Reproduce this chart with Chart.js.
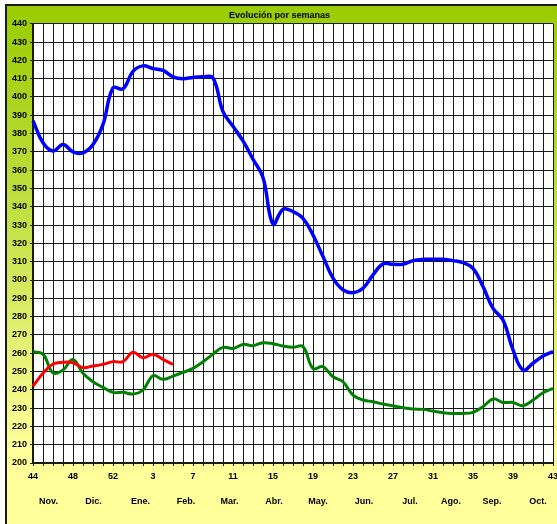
<!DOCTYPE html>
<html>
<head>
<meta charset="utf-8">
<script src="https://cdn.jsdelivr.net/npm/chart.js@4"></script>
<style>
  html, body { margin: 0; padding: 0; background: #fff; }
  #wrap { width: 557px; height: 524px; position: relative; }
</style>
</head>
<body>
<div id="wrap"><canvas id="myChart"></canvas></div>
<script>
// weeks 44..53 of the previous year, then 1..43
const weeks = [44, 45, 46, 47, 48, 49, 50, 51, 52, 53,
  1, 2, 3, 4, 5, 6, 7, 8, 9, 10, 11, 12, 13, 14, 15, 16, 17, 18, 19, 20,
  21, 22, 23, 24, 25, 26, 27, 28, 29, 30, 31, 32, 33, 34, 35, 36, 37, 38, 39, 40,
  41, 42, 43];

const blueValues = [387, 375, 370.5, 374, 370, 369.5, 374, 385, 405, 404.5,
  414, 417, 415.5, 414.5, 411, 410, 410.7, 411, 410.5, 392,
  384, 376, 366, 356, 330.5, 338.7, 337.4, 333.7, 324.6, 312.8,
  301, 294.6, 293.1, 295.5, 302.8, 308.8, 308.6, 308.6, 310.6, 311.3,
  311.3, 311.3, 310.6, 309.5, 306.4, 296.4, 284.5, 278.1, 261.8, 250.8,
  254.5, 258.5, 260.9];

const greenValues = [260.8, 259.5, 249.3, 250.8, 256.6, 249, 244.4, 241.3, 238.6, 238.6,
  237.7, 239.9, 247.7, 245.7, 247.5, 249.5, 251.7, 255.3, 259.5, 263.2,
  262.6, 264.8, 264.1, 265.7, 265.2, 263.9, 263.2, 263.6, 251.7, 252.6,
  247.1, 244.4, 237.1, 234.4, 233.5, 232.2, 231.3, 230.2, 229.5, 229.3,
  228.4, 227.5, 227.1, 227.1, 227.7, 230.8, 235, 233.1, 233.1, 231.3,
  234.4, 238.4, 240.8];

const redValues = [242, 249, 254.1, 255, 254.8, 252.1, 253, 253.9, 255.4, 255.4,
  260.5, 257.5, 259.4, 256.6, 253.9];

const months = ["Nov.", "Dic.", "Ene.", "Feb.", "Mar.", "Abr.", "May.", "Jun.", "Jul.", "Ago.", "Sep.", "Oct."];
const monthAt = [1.55, 6.05, 10.75, 15.3, 19.65, 24.1, 28.5, 33.1, 37.7, 41.8, 45.9, 50.5];

const FONT = "Arial, 'Liberation Sans', sans-serif";

const backdrop = {
  id: "backdrop",
  beforeDraw(chart) {
    const c = chart.ctx;
    const w = chart.width, h = chart.height;
    c.save();
    c.fillStyle = "#fff";
    c.fillRect(0, 0, w, h);
    const g = c.createLinearGradient(0, 5, 0, h);
    g.addColorStop(0, "#99cc00");
    g.addColorStop(0.45, "#c8e24c");
    g.addColorStop(0.85, "#ffff99");
    g.addColorStop(1, "#ffff99");
    c.fillStyle = g;
    c.fillRect(6, 5, w - 6, h - 5);
    c.fillStyle = "#1a1a1a";
    c.fillRect(5, 4, w - 5, 2);
    c.fillRect(5, 4, 2, h - 4);
    const a = chart.chartArea;
    c.fillStyle = "#fff";
    c.fillRect(a.left, a.top, a.right - a.left, a.bottom - a.top);
    c.restore();
  },
  afterDraw(chart) {
    const c = chart.ctx;
    const x = chart.scales.x;
    c.save();
    c.font = "bold 9px " + FONT;
    c.fillStyle = "#000";
    c.textAlign = "center";
    c.textBaseline = "middle";
    months.forEach((m, i) => {
      c.fillText(m, x.getPixelForValue(monthAt[i]), 502);
    });
    c.restore();
  }
};

const ctx = document.getElementById("myChart");

new Chart(ctx, {
  type: "line",
  data: {
    labels: weeks.map(String),
    datasets: [
      {
        label: "verde",
        data: greenValues,
        borderColor: "#008000",
        borderWidth: 3,
        tension: 0.4,
        pointRadius: 0,
        order: 3,
      },
      {
        label: "rojo",
        data: redValues,
        borderColor: "#ff0000",
        borderWidth: 3,
        tension: 0.4,
        pointRadius: 0,
        order: 2,
      },
      {
        label: "azul",
        data: blueValues,
        borderColor: "#0000ff",
        borderWidth: 3.5,
        tension: 0.4,
        pointRadius: 0,
        order: 1,
      },
    ],
  },
  options: {
    responsive: true,
    maintainAspectRatio: false,
    animation: false,
    layout: { padding: { left: 6, right: 4, top: 5, bottom: 0 } },
    plugins: {
      legend: { display: false },
      tooltip: { enabled: false },
      title: {
        display: true,
        text: "Evolución por semanas",
        color: "#000",
        font: { family: FONT, size: 9, weight: "bold" },
        padding: { top: 5, bottom: 3 },
      },
    },
    scales: {
      x: {
        type: "category",
        offset: false,
        border: { color: "#1a1a1a", width: 2 },
        grid: {
          color: "#1a1a1a",
          lineWidth: 1,
          tickLength: 3,
          tickColor: "#1a1a1a",
        },
        ticks: {
          autoSkip: false,
          maxRotation: 0,
          padding: 5,
          color: "#000",
          font: { family: FONT, size: 9, weight: "bold" },
          callback: (v, i) => (i % 4 === 0 ? weeks[i] : ""),
        },
        afterFit(scale) {
          scale.height = 61;
          scale.paddingLeft = 0;
          scale.paddingRight = 0;
        },
      },
      y: {
        min: 200,
        max: 440,
        border: { color: "#1a1a1a", width: 2 },
        grid: {
          color: (c) => (c.tick && c.tick.value % 10 === 0 ? "#1a1a1a" : "rgba(0,0,0,0)"),
          lineWidth: 1,
          tickLength: 3,
          tickColor: "#1a1a1a",
        },
        ticks: {
          stepSize: 5,
          padding: 3,
          color: "#000",
          font: { family: FONT, size: 9, weight: "bold" },
          callback: (v) => (v % 10 === 0 ? v : ""),
        },
        afterFit(scale) {
          scale.width = 27;
        },
      },
    },
  },
  plugins: [backdrop],
});
</script>
</body>
</html>
